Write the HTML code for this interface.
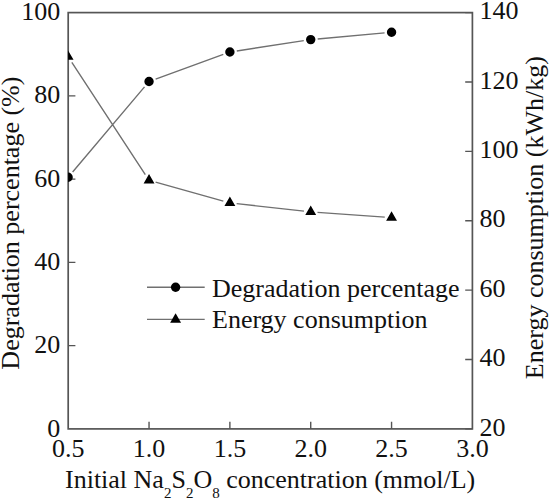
<!DOCTYPE html>
<html><head><meta charset="utf-8"><style>html,body{margin:0;padding:0;background:#fff;width:550px;height:499px;overflow:hidden}text{font-family:"Liberation Serif",serif}</style></head>
<body><svg width="550" height="499" viewBox="0 0 550 499" style="display:block">
<rect width="550" height="499" fill="#fff"/>
<defs><clipPath id="c"><rect x="68.10" y="12.60" width="404.20" height="416.30"/></clipPath></defs>
<rect x="68.2" y="12.6" width="404.20" height="416.30" fill="none" stroke="#555" stroke-width="1.7"/>
<path d="M68.2,345.64h7.2 M68.2,262.38h7.2 M68.2,179.12h7.2 M68.2,95.86h7.2 M472.4,428.90h-7.2 M472.4,359.52h-7.2 M472.4,290.13h-7.2 M472.4,220.75h-7.2 M472.4,151.37h-7.2 M472.4,81.98h-7.2 M472.4,12.60h-7.2 M149.04,428.9v-7.2 M229.88,428.9v-7.2 M310.72,428.9v-7.2 M391.56,428.9v-7.2" stroke="#555" stroke-width="1.4" fill="none"/>
<g clip-path="url(#c)"><path d="M72.62,171.95L144.52,86.85M155.62,79.10L223.30,54.40M236.80,50.94L303.80,40.66M317.69,38.96L384.59,32.84M71.83,62.39L145.31,174.61M155.59,182.13L223.33,201.07M236.64,203.65L303.96,211.15M317.50,212.38L384.78,217.12" fill="none" stroke="#707070" stroke-width="1.4"/><path d="M63.40,177.30a4.7,4.7 0 1,0 9.4,0a4.7,4.7 0 1,0 -9.4,0ZM144.34,81.50a4.7,4.7 0 1,0 9.4,0a4.7,4.7 0 1,0 -9.4,0ZM225.18,52.00a4.7,4.7 0 1,0 9.4,0a4.7,4.7 0 1,0 -9.4,0ZM306.02,39.60a4.7,4.7 0 1,0 9.4,0a4.7,4.7 0 1,0 -9.4,0ZM386.86,32.20a4.7,4.7 0 1,0 9.4,0a4.7,4.7 0 1,0 -9.4,0Z" fill="#000"/><path d="M68.10,50.41L73.55,59.85L62.65,59.85ZM149.04,174.01L154.49,183.45L143.59,183.45ZM229.88,196.61L235.33,206.05L224.43,206.05ZM310.72,205.61L316.17,215.05L305.27,215.05ZM391.56,211.31L397.01,220.75L386.11,220.75Z" fill="#000"/></g>
<g font-size="26" fill="#111"><text x="60.3" y="436.50" text-anchor="end">0</text><text x="60.3" y="353.24" text-anchor="end">20</text><text x="60.3" y="269.98" text-anchor="end">40</text><text x="60.3" y="186.72" text-anchor="end">60</text><text x="60.3" y="103.46" text-anchor="end">80</text><text x="60.3" y="20.20" text-anchor="end">100</text><text x="479.5" y="435.60">20</text><text x="479.5" y="366.22">40</text><text x="479.5" y="296.83">60</text><text x="479.5" y="227.45">80</text><text x="479.5" y="158.07">100</text><text x="479.5" y="88.68">120</text><text x="479.5" y="19.30">140</text><text x="68.20" y="457.3" text-anchor="middle">0.5</text><text x="149.04" y="457.3" text-anchor="middle">1.0</text><text x="229.88" y="457.3" text-anchor="middle">1.5</text><text x="310.72" y="457.3" text-anchor="middle">2.0</text><text x="391.56" y="457.3" text-anchor="middle">2.5</text><text x="472.40" y="457.3" text-anchor="middle">3.0</text><text x="65" y="487.6">Initial Na<tspan dy="10.5" font-size="15">2</tspan><tspan dy="-10.5">S</tspan><tspan dy="10.5" font-size="15">2</tspan><tspan dy="-10.5">O</tspan><tspan dy="10.5" font-size="15">8</tspan><tspan dy="-10.5"> concentration (mmol/L)</tspan></text><text transform="translate(18.6,223.1) rotate(-90)" text-anchor="middle">Degradation percentage (%)</text><text transform="translate(543,217.7) rotate(-90)" text-anchor="middle">Energy consumption (kWh/kg)</text><text x="212" y="296.7">Degradation percentage</text><text x="212" y="328">Energy consumption</text></g>
<path d="M147,287.3H204.7M147,319.4H204.7" stroke="#707070" stroke-width="1.4"/>
<circle cx="175.6" cy="287.3" r="4.7" fill="#000"/>
<path d="M175.60,313.31L181.05,322.75L170.15,322.75Z" fill="#000"/>
</svg>
</body></html>
